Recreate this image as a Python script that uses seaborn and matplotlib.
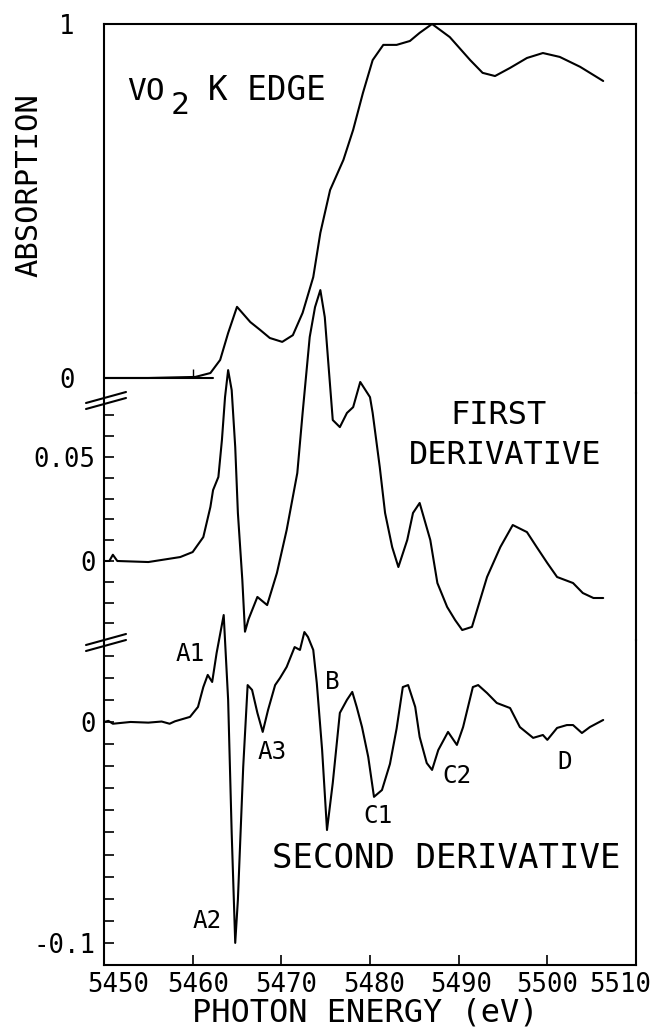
import matplotlib
matplotlib.use("Agg")
import matplotlib.pyplot as plt
import seaborn as sns
import numpy as np
from matplotlib.lines import Line2D
from matplotlib.transforms import ScaledTranslation

# ---------------- data ----------------
energy_abs = [5450.0, 5455.0, 5460.3, 5462.0, 5463.1, 5464.0, 5465.0, 5466.5, 5467.6,
              5468.7, 5470.1, 5471.3, 5472.4, 5473.6, 5474.4, 5475.5, 5477.0, 5478.1,
              5479.2, 5480.3, 5481.5, 5483.0, 5484.5, 5485.6, 5487.0, 5489.0, 5491.3,
              5492.7, 5494.1, 5495.8, 5497.7, 5499.5, 5501.4, 5503.7, 5506.3]
absorption = [0.0, 0.0, 0.003, 0.014, 0.051, 0.127, 0.201, 0.158, 0.136,
              0.113, 0.102, 0.121, 0.184, 0.285, 0.410, 0.531, 0.616, 0.701,
              0.805, 0.898, 0.941, 0.941, 0.952, 0.975, 1.0, 0.963, 0.898,
              0.862, 0.853, 0.876, 0.904, 0.918, 0.907, 0.879, 0.839]

energy_d1 = [5450.0, 5450.6, 5451.0, 5451.5, 5455.0, 5458.6, 5460.0, 5461.2, 5462.0,
             5462.3, 5462.9, 5463.3, 5463.65, 5464.0, 5464.4, 5464.8, 5465.1, 5465.6,
             5465.9, 5466.3, 5467.3, 5468.4, 5469.5, 5470.6, 5471.8, 5472.4, 5473.2,
             5473.8, 5474.4, 5474.9, 5475.3, 5475.8, 5476.6, 5477.4, 5478.1, 5478.9,
             5480.0, 5480.3, 5481.1, 5481.7, 5482.5, 5483.2, 5484.2, 5484.85, 5485.6,
             5486.8, 5487.6, 5488.7, 5489.6, 5490.4, 5491.5, 5493.2, 5494.7, 5496.1,
             5497.7, 5498.8, 5500.0, 5501.1, 5502.9, 5504.0, 5505.2, 5506.3]
first_deriv = [0.0, 0.0, 0.003, 0.0, -0.0005, 0.0019, 0.0043, 0.0115, 0.026,
               0.0341, 0.0404, 0.0582, 0.0788, 0.0918, 0.0822, 0.0548, 0.0231, -0.0091,
               -0.034, -0.028, -0.0173, -0.0212, -0.0058, 0.0149, 0.0423, 0.0712, 0.1077,
               0.1221, 0.1303, 0.1173, 0.0952, 0.0678, 0.0644, 0.0712, 0.074, 0.0861,
               0.0788, 0.0712, 0.0452, 0.0231, 0.0067, -0.0029, 0.0101, 0.0231, 0.0279,
               0.0101, -0.0106, -0.0221, -0.0284, -0.0332, -0.0317, -0.0077, 0.0067, 0.0173,
               0.0139, 0.0067, -0.001, -0.0077, -0.0106, -0.0154, -0.0178, -0.0178]

energy_d2 = [5450.0, 5450.5, 5451.0, 5453.0, 5455.0, 5456.5, 5457.4, 5458.0, 5459.7,
             5460.6, 5461.2, 5461.7, 5462.2, 5462.7, 5463.5, 5464.0, 5464.4, 5464.8,
             5465.1, 5465.7, 5466.2, 5466.7, 5467.3, 5467.9, 5468.5, 5469.3, 5469.85,
             5470.6, 5471.5, 5472.1, 5472.6, 5473.0, 5473.6, 5474.0, 5474.6, 5475.15,
             5475.8, 5476.6, 5477.4, 5478.0, 5478.5, 5479.1, 5479.8, 5480.45, 5481.35,
             5482.25, 5483.0, 5483.7, 5484.3, 5485.1, 5485.6, 5486.4, 5487.0, 5487.7,
             5488.8, 5489.8, 5490.5, 5491.6, 5492.2, 5493.2, 5494.3, 5495.8, 5496.9,
             5498.4, 5499.5, 5500.0, 5501.1, 5502.2, 5502.9, 5503.9, 5504.8, 5506.3]
second_deriv = [0.0, 0.0005, -0.0008, 0.0, -0.0003, 0.0002, -0.0008, 0.0003, 0.0023,
                0.0068, 0.0158, 0.0213, 0.0181, 0.0312, 0.0484, 0.01, -0.0502, -0.1,
                -0.0805, -0.0204, 0.0167, 0.0145, 0.0041, -0.0045, 0.0054, 0.0167, 0.0199,
                0.0249, 0.0339, 0.0326, 0.0407, 0.0385, 0.0326, 0.0176, -0.0127, -0.0489,
                -0.0276, 0.0041, 0.01, 0.0136, 0.0068, -0.0023, -0.0158, -0.0339, -0.0308,
                -0.019, -0.003, 0.0158, 0.0167, 0.0068, -0.0068, -0.0186, -0.0217, -0.0127,
                -0.0045, -0.0104, -0.0023, 0.0158, 0.0167, 0.0131, 0.0086, 0.0063, -0.0023,
                -0.0072, -0.0059, -0.0081, -0.0027, -0.0014, -0.0014, -0.005, -0.0023, 0.0009]

x_ticks = [5450, 5460, 5470, 5480, 5490, 5500, 5510]
x_tick_labels = ["5450", "5460", "5470", "5480", "5490", "5500", "5510"]
abs_ticks = [0, 1]
abs_tick_labels = ["0", "1"]
d1_ticks = [-0.03, -0.02, -0.01, 0.0, 0.01, 0.02, 0.03, 0.04, 0.05, 0.06, 0.07]
d1_tick_labels = ["", "", "", "0", "", "", "", "", "0.05", "", ""]
d2_ticks = [-0.10, -0.09, -0.08, -0.07, -0.06, -0.05, -0.04, -0.03, -0.02, -0.01,
            0.0, 0.01, 0.02, 0.03]
d2_tick_labels = ["-0.1", "", "", "", "", "", "", "", "", "", "0", "", "", ""]
zero_line_end = 5462.3
edge_tick = 5460

peak_labels = ["A1", "A2", "A3", "B", "C1", "C2", "D"]

# ---------------- style ----------------
sns.set_theme(style="white")
plt.rcParams['font.family'] = ['DejaVu Sans Mono', 'DejaVu Sans']
plt.rcParams['axes.linewidth'] = 1.5

W, H = 650, 1030
fig = plt.figure(figsize=(6.5, 10.3), dpi=100)
fig.patch.set_facecolor("white")


def fx(px):
    return px / W


def fy(py):
    return 1 - py / H


L, R = 104, 636
T, B1, B2, BOT = 24, 393, 640, 965


def make_ax(ptop, pbot):
    ax = fig.add_axes([fx(L), fy(pbot), fx(R) - fx(L), fy(ptop) - fy(pbot)])
    ax.set_facecolor("none")
    for s in ax.spines.values():
        s.set_color("black")
        s.set_linewidth(1.5)
    ax.set_xlim(5450, 5510)
    return ax


ax1 = make_ax(T, B1)
ax2 = make_ax(B1, B2)
ax3 = make_ax(B2, BOT)

ax1.set_ylim(-0.0424, 1.0)
ax2.set_ylim(-0.038, 0.0808)
ax3.set_ylim(-0.110, 0.0371)

ax1.spines['bottom'].set_visible(False)
ax2.spines['top'].set_visible(False)
ax2.spines['bottom'].set_visible(False)
ax3.spines['top'].set_visible(False)

lw = 1.5
sns.lineplot(x=energy_abs, y=absorption, ax=ax1, color="black", linewidth=lw,
             estimator=None, sort=False, clip_on=False)
sns.lineplot(x=energy_d1, y=first_deriv, ax=ax2, color="black", linewidth=lw,
             estimator=None, sort=False, clip_on=False)
sns.lineplot(x=energy_d2, y=second_deriv, ax=ax3, color="black", linewidth=lw,
             estimator=None, sort=False, clip_on=False)

# absorption zero reference line and small tick
ax1.plot([5450, zero_line_end], [0, 0], color="black", linewidth=1.5, clip_on=False)
ax1.vlines(edge_tick, 0, 0.024, color="black", linewidth=1.0)

tick_fs = 18.5
for ax in (ax1, ax2):
    ax.tick_params(axis='x', bottom=False, labelbottom=False, top=False)

ax1.set_yticks(abs_ticks)
ax1.set_yticklabels(abs_tick_labels)
ax1.tick_params(axis='y', left=True, length=0, pad=21, labelsize=tick_fs, colors="black")

ax2.set_yticks(d1_ticks)
ax2.set_yticklabels(d1_tick_labels)
ax2.tick_params(axis='y', left=True, direction='in', length=7.5, width=1.2,
                pad=6, labelsize=tick_fs, colors="black")

ax3.set_yticks(d2_ticks)
ax3.set_yticklabels(d2_tick_labels)
ax3.tick_params(axis='y', left=True, direction='in', length=7.5, width=1.2,
                pad=6, labelsize=tick_fs, colors="black")
ax3.set_xticks(x_ticks)
ax3.set_xticklabels(x_tick_labels)
ax3.tick_params(axis='x', bottom=True, direction='in', length=7, width=1.2,
                pad=5, labelsize=tick_fs, colors="black")

# the hand-lettered tick labels sit slightly off their ticks
x_label_shift_px = [14, 6, 5, 4, 3, 0, -16]
for lab, dx in zip(ax3.get_xticklabels(), x_label_shift_px):
    lab.set_transform(lab.get_transform() + ScaledTranslation(dx / 100, 0, fig.dpi_scale_trans))

for ax in (ax1, ax2, ax3):
    ax.set_xlabel("")
    ax.set_ylabel("")


# ---------------- texts ----------------
def ptext(px, py, s, size, ha="center", va="center", **kw):
    fig.text(fx(px), fy(py), s, fontsize=size, ha=ha, va=va, color="black", **kw)


ptext(29, 185, "ABSORPTION", 22, rotation=90)
ptext(127, 92, "VO", 22.5, ha="left")
ptext(171, 106, "2", 22.5, ha="left")
ptext(208, 91, "K EDGE", 23.5, ha="left")
ptext(498, 416, "FIRST", 23)
ptext(505, 455, "DERIVATIVE", 23)
ptext(446, 859, "SECOND DERIVATIVE", 24.5)
ptext(365, 1013, "PHOTON ENERGY (eV)", 23)

label_pos = [(190, 654), (207, 921), (272, 752), (332, 682), (378, 816), (457, 776), (565, 762)]
for lab, (px, py) in zip(peak_labels, label_pos):
    ptext(px, py, lab, 17.5)

# axis break marks
for (y0, y1) in [(403, 392), (409, 398), (645, 634), (651, 640)]:
    fig.add_artist(Line2D([fx(86), fx(126)], [fy(y0), fy(y1)], color="black",
                          linewidth=1.5, transform=fig.transFigure))

fig.savefig("out.png", dpi=100, facecolor="white")
